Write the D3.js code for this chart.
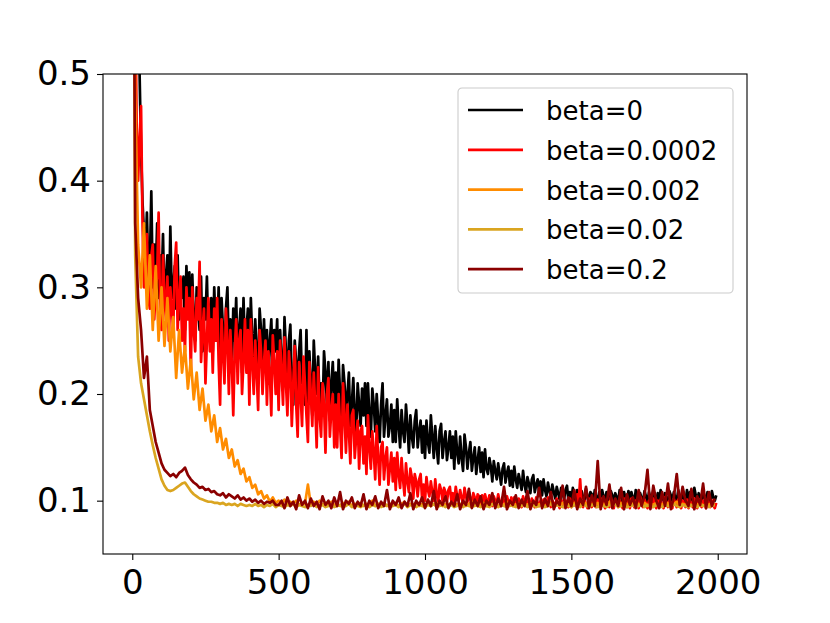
<!DOCTYPE html>
<html>
<head>
<meta charset="utf-8">
<script src="https://cdn.jsdelivr.net/npm/d3@7"></script>
<style>
  body { margin: 0; background: #fff; }
  text { font-family: "DejaVu Sans", sans-serif; }
</style>
</head>
<body>
<div id="chart"></div>
<script>
// x positions: the noisy runs are read every 5 steps, the smooth ones every 10
const stepsFine = d3.range(0, 2000, 5);
const steps = d3.range(0, 2000, 10);

const seriesNames = ["beta=0", "beta=0.0002", "beta=0.002", "beta=0.02", "beta=0.2"];
const seriesColors = ["#000000", "#ff0000", "#ff8c00", "#daa520", "#8b0000"];

const xTicks = [0, 500, 1000, 1500, 2000];
const yTicks = [0.1, 0.2, 0.3, 0.4, 0.5];

// beta=0 (every 5 steps)
const beta0 = [
  0.95, 0.80, 0.62, 0.58, 0.54, 0.50, 0.43, 0.38, 0.35, 0.33, 0.37, 0.31, 0.32, 0.39, 0.30, 0.34, 0.31, 0.36, 0.29, 0.33,
  0.30, 0.35, 0.28, 0.31, 0.33, 0.27, 0.357, 0.29, 0.30, 0.32, 0.28, 0.33, 0.27, 0.30, 0.29, 0.31, 0.26, 0.32, 0.28, 0.314,
  0.26, 0.312, 0.27, 0.25, 0.30, 0.28, 0.26, 0.31, 0.24, 0.29, 0.27, 0.31, 0.25, 0.28, 0.29, 0.24, 0.30, 0.26, 0.25, 0.30,
  0.24, 0.29, 0.26, 0.23, 0.28, 0.30, 0.24, 0.27, 0.22, 0.28, 0.25, 0.29, 0.23, 0.26, 0.28, 0.22, 0.29, 0.24, 0.26, 0.28,
  0.22, 0.29, 0.25, 0.23, 0.27, 0.24, 0.21, 0.28, 0.26, 0.22, 0.27, 0.23, 0.26, 0.21, 0.25, 0.27, 0.22, 0.26, 0.24, 0.27,
  0.20, 0.26, 0.23, 0.21, 0.272, 0.24, 0.20, 0.25, 0.265, 0.21, 0.19, 0.25, 0.23, 0.20, 0.24, 0.26, 0.21, 0.23, 0.19, 0.26,
  0.19, 0.24, 0.21, 0.18, 0.25, 0.22, 0.20, 0.235, 0.19, 0.21, 0.18, 0.24, 0.22, 0.19, 0.23, 0.175, 0.21, 0.23, 0.19, 0.22,
  0.18, 0.232, 0.20, 0.17, 0.227, 0.21, 0.18, 0.20, 0.22, 0.17, 0.19, 0.215, 0.18, 0.165, 0.21, 0.19, 0.17, 0.205, 0.18, 0.21,
  0.17, 0.21, 0.18, 0.16, 0.205, 0.19, 0.165, 0.20, 0.175, 0.155, 0.19, 0.21, 0.16, 0.18, 0.195, 0.16, 0.17, 0.19, 0.155, 0.185,
  0.155, 0.195, 0.17, 0.15, 0.185, 0.165, 0.155, 0.19, 0.17, 0.145, 0.18, 0.16, 0.15, 0.175, 0.185, 0.15, 0.165, 0.175, 0.145, 0.17,
  0.14, 0.175, 0.155, 0.145, 0.18, 0.16, 0.14, 0.17, 0.15, 0.135, 0.165, 0.172, 0.14, 0.155, 0.165, 0.138, 0.15, 0.165, 0.14, 0.16,
  0.13, 0.165, 0.145, 0.135, 0.16, 0.14, 0.128, 0.162, 0.15, 0.13, 0.145, 0.155, 0.128, 0.14, 0.15, 0.125, 0.138, 0.15, 0.127, 0.145,
  0.122, 0.148, 0.13, 0.125, 0.14, 0.132, 0.118, 0.137, 0.128, 0.12, 0.135, 0.125, 0.115, 0.13, 0.135, 0.117, 0.126, 0.132, 0.114, 0.128,
  0.113, 0.132, 0.12, 0.112, 0.125, 0.118, 0.11, 0.128, 0.115, 0.108, 0.122, 0.116, 0.107, 0.12, 0.124, 0.108, 0.115, 0.12, 0.106, 0.118,
  0.105, 0.12, 0.11, 0.104, 0.117, 0.109, 0.103, 0.115, 0.108, 0.102, 0.113, 0.107, 0.101, 0.112, 0.109, 0.101, 0.11, 0.114, 0.10, 0.108,
  0.10, 0.112, 0.104, 0.099, 0.11, 0.105, 0.10, 0.109, 0.103, 0.099, 0.111, 0.104, 0.10, 0.108, 0.106, 0.099, 0.11, 0.103, 0.10, 0.108,
  0.099, 0.11, 0.104, 0.10, 0.108, 0.102, 0.098, 0.109, 0.105, 0.10, 0.107, 0.103, 0.099, 0.11, 0.104, 0.098, 0.108, 0.102, 0.10, 0.109,
  0.10, 0.108, 0.103, 0.098, 0.11, 0.105, 0.099, 0.107, 0.102, 0.10, 0.109, 0.104, 0.098, 0.108, 0.103, 0.10, 0.11, 0.104, 0.099, 0.107,
  0.099, 0.11, 0.104, 0.10, 0.107, 0.102, 0.098, 0.109, 0.105, 0.10, 0.108, 0.103, 0.099, 0.11, 0.104, 0.10, 0.108, 0.102, 0.099, 0.11,
  0.10, 0.108, 0.103, 0.099, 0.112, 0.105, 0.10, 0.107, 0.104, 0.098, 0.11, 0.103, 0.10, 0.108, 0.104, 0.099, 0.109, 0.103, 0.10, 0.105
];

// beta=0.0002 (every 5 steps)
const beta0002 = [
  0.95, 0.75, 0.58, 0.45, 0.40, 0.44, 0.47, 0.36, 0.30, 0.34, 0.35, 0.29, 0.28, 0.33, 0.34, 0.27, 0.30, 0.31, 0.37, 0.28,
  0.26, 0.33, 0.29, 0.27, 0.31, 0.25, 0.30, 0.28, 0.26, 0.32, 0.342, 0.26, 0.29, 0.31, 0.25, 0.28, 0.24, 0.30, 0.27, 0.29,
  0.22, 0.30, 0.26, 0.24, 0.29, 0.27, 0.324, 0.23, 0.26, 0.28, 0.21, 0.25, 0.29, 0.24, 0.27, 0.22, 0.28, 0.25, 0.29, 0.23,
  0.19, 0.27, 0.24, 0.21, 0.28, 0.25, 0.20, 0.26, 0.23, 0.18, 0.24, 0.27, 0.21, 0.25, 0.26, 0.20, 0.23, 0.27, 0.22, 0.26,
  0.19, 0.27, 0.23, 0.20, 0.25, 0.22, 0.185, 0.26, 0.24, 0.20, 0.23, 0.25, 0.19, 0.24, 0.22, 0.18, 0.255, 0.23, 0.20, 0.24,
  0.185, 0.25, 0.22, 0.19, 0.253, 0.21, 0.18, 0.24, 0.22, 0.17, 0.21, 0.245, 0.19, 0.16, 0.23, 0.20, 0.17, 0.235, 0.21, 0.18,
  0.155, 0.23, 0.20, 0.17, 0.22, 0.19, 0.15, 0.225, 0.18, 0.16, 0.21, 0.19, 0.145, 0.20, 0.215, 0.16, 0.185, 0.20, 0.15, 0.19,
  0.15, 0.20, 0.17, 0.14, 0.21, 0.18, 0.145, 0.19, 0.165, 0.135, 0.18, 0.185, 0.14, 0.16, 0.175, 0.13, 0.165, 0.17, 0.135, 0.16,
  0.125, 0.18, 0.15, 0.13, 0.165, 0.145, 0.12, 0.17, 0.14, 0.115, 0.15, 0.155, 0.12, 0.14, 0.15, 0.115, 0.13, 0.145, 0.118, 0.14,
  0.11, 0.145, 0.125, 0.112, 0.14, 0.12, 0.105, 0.135, 0.118, 0.108, 0.13, 0.122, 0.102, 0.125, 0.118, 0.104, 0.12, 0.125, 0.102, 0.115,
  0.10, 0.122, 0.11, 0.104, 0.118, 0.108, 0.10, 0.12, 0.106, 0.099, 0.115, 0.11, 0.10, 0.112, 0.108, 0.099, 0.11, 0.113, 0.10, 0.107,
  0.098, 0.113, 0.104, 0.10, 0.11, 0.103, 0.097, 0.112, 0.104, 0.099, 0.108, 0.102, 0.097, 0.107, 0.103, 0.097, 0.106, 0.104, 0.097, 0.105,
  0.096, 0.106, 0.10, 0.098, 0.105, 0.099, 0.095, 0.104, 0.10, 0.097, 0.106, 0.099, 0.095, 0.103, 0.10, 0.095, 0.104, 0.099, 0.096, 0.103,
  0.095, 0.103, 0.098, 0.096, 0.102, 0.097, 0.094, 0.104, 0.099, 0.095, 0.101, 0.098, 0.094, 0.102, 0.097, 0.094, 0.103, 0.098, 0.095, 0.10,
  0.094, 0.101, 0.097, 0.095, 0.103, 0.098, 0.094, 0.10, 0.097, 0.095, 0.102, 0.097, 0.093, 0.101, 0.098, 0.094, 0.10, 0.097, 0.094, 0.102,
  0.094, 0.101, 0.097, 0.095, 0.106, 0.098, 0.12, 0.096, 0.094, 0.10, 0.097, 0.093, 0.102, 0.098, 0.094, 0.10, 0.097, 0.094, 0.101, 0.096,
  0.094, 0.102, 0.097, 0.093, 0.10, 0.098, 0.094, 0.103, 0.097, 0.093, 0.101, 0.098, 0.094, 0.10, 0.097, 0.093, 0.102, 0.096, 0.094, 0.10,
  0.093, 0.102, 0.097, 0.094, 0.10, 0.096, 0.093, 0.104, 0.098, 0.094, 0.101, 0.097, 0.093, 0.10, 0.096, 0.094, 0.102, 0.097, 0.093, 0.10,
  0.094, 0.101, 0.096, 0.093, 0.103, 0.098, 0.094, 0.10, 0.097, 0.093, 0.102, 0.097, 0.094, 0.101, 0.096, 0.093, 0.10, 0.098, 0.094, 0.101,
  0.093, 0.10, 0.097, 0.094, 0.102, 0.097, 0.093, 0.101, 0.096, 0.094, 0.10, 0.097, 0.093, 0.101, 0.098, 0.094, 0.10, 0.096, 0.093, 0.098
];

// beta=0.002 (every 10 steps)
const beta002 = [
  0.95, 0.48, 0.34, 0.30, 0.36, 0.28, 0.33, 0.26, 0.32, 0.25,
  0.30, 0.245, 0.29, 0.24, 0.272, 0.215, 0.26, 0.22, 0.245, 0.205,
  0.232, 0.195, 0.22, 0.185, 0.205, 0.175, 0.19, 0.165, 0.18, 0.155,
  0.168, 0.148, 0.158, 0.14, 0.148, 0.132, 0.138, 0.125, 0.13, 0.118,
  0.122, 0.112, 0.115, 0.106, 0.109, 0.102, 0.105, 0.099, 0.103, 0.098,
  0.10, 0.097, 0.101, 0.096, 0.099, 0.097, 0.10, 0.096, 0.098, 0.097,
  0.115, 0.096, 0.099, 0.097, 0.10, 0.096, 0.098, 0.097, 0.099, 0.096,
  0.097, 0.095, 0.098, 0.096, 0.099, 0.095, 0.097, 0.096, 0.098, 0.095,
  0.097, 0.096, 0.10, 0.095, 0.097, 0.096, 0.098, 0.095, 0.097, 0.096,
  0.098, 0.095, 0.097, 0.099, 0.095, 0.097, 0.096, 0.098, 0.095, 0.097,
  0.096, 0.098, 0.095, 0.097, 0.096, 0.099, 0.095, 0.097, 0.096, 0.098,
  0.095, 0.097, 0.096, 0.098, 0.095, 0.097, 0.099, 0.095, 0.097, 0.096,
  0.098, 0.095, 0.097, 0.096, 0.098, 0.095, 0.097, 0.096, 0.099, 0.095,
  0.097, 0.096, 0.098, 0.095, 0.097, 0.096, 0.098, 0.095, 0.097, 0.096,
  0.098, 0.095, 0.097, 0.099, 0.095, 0.097, 0.096, 0.098, 0.095, 0.097,
  0.096, 0.098, 0.095, 0.097, 0.096, 0.098, 0.095, 0.097, 0.096, 0.098,
  0.095, 0.097, 0.096, 0.099, 0.095, 0.097, 0.096, 0.098, 0.095, 0.097,
  0.096, 0.098, 0.095, 0.097, 0.096, 0.098, 0.095, 0.097, 0.096, 0.098,
  0.095, 0.097, 0.096, 0.098, 0.095, 0.097, 0.099, 0.095, 0.097, 0.096,
  0.098, 0.095, 0.097, 0.096, 0.098, 0.095, 0.097, 0.096, 0.098, 0.096
];

// beta=0.02 (every 10 steps)
const beta02 = [
  0.95, 0.33, 0.235, 0.21, 0.195, 0.18, 0.165, 0.152, 0.14, 0.13,
  0.12, 0.114, 0.11, 0.109, 0.11, 0.112, 0.114, 0.116, 0.117, 0.113,
  0.109, 0.106, 0.104, 0.102, 0.101, 0.10, 0.099, 0.099, 0.098, 0.098,
  0.097, 0.098, 0.096, 0.097, 0.096, 0.097, 0.095, 0.097, 0.096, 0.095,
  0.096, 0.095, 0.097, 0.095, 0.096, 0.094, 0.096, 0.095, 0.097, 0.094,
  0.096, 0.095, 0.094, 0.096, 0.095, 0.097, 0.094, 0.096, 0.095, 0.094,
  0.096, 0.095, 0.097, 0.094, 0.095, 0.096, 0.094, 0.095, 0.097, 0.094,
  0.095, 0.096, 0.094, 0.095, 0.097, 0.094, 0.096, 0.095, 0.094, 0.096,
  0.095, 0.094, 0.096, 0.095, 0.097, 0.094, 0.095, 0.096, 0.094, 0.095,
  0.096, 0.094, 0.095, 0.097, 0.094, 0.096, 0.095, 0.094, 0.096, 0.095,
  0.094, 0.096, 0.095, 0.097, 0.094, 0.095, 0.096, 0.094, 0.095, 0.096,
  0.094, 0.095, 0.097, 0.094, 0.096, 0.095, 0.094, 0.096, 0.095, 0.094,
  0.096, 0.095, 0.094, 0.097, 0.095, 0.094, 0.096, 0.095, 0.094, 0.096,
  0.095, 0.094, 0.096, 0.095, 0.097, 0.094, 0.095, 0.096, 0.094, 0.095,
  0.096, 0.094, 0.095, 0.097, 0.094, 0.096, 0.095, 0.094, 0.096, 0.095,
  0.094, 0.096, 0.095, 0.094, 0.097, 0.095, 0.094, 0.096, 0.095, 0.094,
  0.096, 0.095, 0.094, 0.096, 0.095, 0.097, 0.094, 0.095, 0.096, 0.094,
  0.095, 0.096, 0.094, 0.095, 0.097, 0.094, 0.096, 0.095, 0.094, 0.096,
  0.095, 0.094, 0.096, 0.095, 0.094, 0.097, 0.095, 0.094, 0.096, 0.095,
  0.094, 0.096, 0.095, 0.094, 0.096, 0.095, 0.097, 0.094, 0.095, 0.096
];

// beta=0.2 (every 10 steps)
const beta2 = [
  0.95, 0.36, 0.29, 0.26, 0.215, 0.235, 0.185, 0.17, 0.155, 0.145,
  0.135, 0.129, 0.126, 0.123, 0.125, 0.122, 0.126, 0.128, 0.131, 0.124,
  0.12, 0.117, 0.115, 0.112, 0.113, 0.11, 0.111, 0.108, 0.109, 0.106,
  0.105, 0.107, 0.103, 0.106, 0.104, 0.102, 0.105, 0.101, 0.103, 0.10,
  0.102, 0.099, 0.101, 0.098, 0.10, 0.097, 0.099, 0.098, 0.10, 0.096,
  0.096, 0.10, 0.093, 0.103, 0.095, 0.099, 0.092, 0.105, 0.096, 0.10,
  0.093, 0.102, 0.095, 0.099, 0.092, 0.104, 0.096, 0.10, 0.093, 0.103,
  0.095, 0.108, 0.092, 0.10, 0.097, 0.103, 0.093, 0.099, 0.095, 0.106,
  0.092, 0.10, 0.096, 0.104, 0.093, 0.099, 0.095, 0.11, 0.092, 0.10,
  0.096, 0.103, 0.093, 0.099, 0.095, 0.107, 0.092, 0.10, 0.096, 0.103,
  0.093, 0.101, 0.095, 0.109, 0.092, 0.10, 0.096, 0.104, 0.093, 0.099,
  0.095, 0.106, 0.092, 0.10, 0.096, 0.111, 0.093, 0.101, 0.095, 0.104,
  0.092, 0.10, 0.096, 0.107, 0.093, 0.102, 0.095, 0.113, 0.092, 0.10,
  0.096, 0.105, 0.093, 0.101, 0.095, 0.109, 0.092, 0.10, 0.096, 0.112,
  0.093, 0.102, 0.095, 0.108, 0.092, 0.10, 0.096, 0.114, 0.093, 0.103,
  0.095, 0.11, 0.092, 0.102, 0.096, 0.113, 0.093, 0.105, 0.095, 0.137,
  0.092, 0.104, 0.096, 0.115, 0.093, 0.102, 0.095, 0.112, 0.092, 0.106,
  0.096, 0.103, 0.093, 0.11, 0.095, 0.105, 0.129, 0.092, 0.114, 0.10,
  0.093, 0.108, 0.095, 0.116, 0.092, 0.103, 0.125, 0.096, 0.113, 0.10,
  0.095, 0.111, 0.092, 0.104, 0.096, 0.116, 0.093, 0.108, 0.095, 0.102
];

// drawing order matches the legend: later series sit on top
const series = [
  { values: beta0, steps: stepsFine },
  { values: beta0002, steps: stepsFine },
  { values: beta002, steps: steps },
  { values: beta02, steps: steps },
  { values: beta2, steps: steps }
];

const width = 830, height = 623;
const margin = { top: 74, right: 83, bottom: 69, left: 103 };

const svg = d3.select("#chart").append("svg")
  .attr("width", width)
  .attr("height", height);

const x = d3.scaleLinear()
  .domain([-100, 2100])
  .range([margin.left, width - margin.right]);

const y = d3.scaleLinear()
  .domain([0.05, 0.5])
  .range([height - margin.bottom, margin.top]);

// clip lines to the axes box
svg.append("clipPath").attr("id", "plot-clip")
  .append("rect")
  .attr("x", margin.left)
  .attr("y", margin.top)
  .attr("width", width - margin.left - margin.right)
  .attr("height", height - margin.top - margin.bottom);

const lineGroup = svg.append("g").attr("clip-path", "url(#plot-clip)");
series.forEach((s, k) => {
  const line = d3.line()
    .x((d, i) => x(s.steps[i]))
    .y(d => y(d));
  lineGroup.append("path")
    .datum(s.values)
    .attr("fill", "none")
    .attr("stroke", seriesColors[k])
    .attr("stroke-width", 2.7)
    .attr("stroke-linejoin", "round")
    .attr("d", line);
});

// axes
const xAxis = svg.append("g")
  .attr("transform", `translate(0,${height - margin.bottom})`)
  .call(d3.axisBottom(x).tickValues(xTicks).tickSize(6).tickPadding(10).tickFormat(d3.format("d")));
xAxis.select(".domain").remove();
xAxis.selectAll("text")
  .attr("fill", "#000")
  .style("font-size", "34px")
  .attr("dy", "0.71em");

const yAxis = svg.append("g")
  .attr("transform", `translate(${margin.left},0)`)
  .call(d3.axisLeft(y).tickValues(yTicks).tickSize(6).tickPadding(6).tickFormat(d3.format(".1f")));
yAxis.select(".domain").remove();
yAxis.selectAll("text")
  .attr("fill", "#000")
  .style("font-size", "34px");
svg.selectAll(".tick line").attr("stroke", "#000").attr("stroke-width", 1.1);

// axes box
svg.append("rect")
  .attr("x", margin.left)
  .attr("y", margin.top)
  .attr("width", width - margin.left - margin.right)
  .attr("height", height - margin.top - margin.bottom)
  .attr("fill", "none")
  .attr("stroke", "#000")
  .attr("stroke-width", 1.1);

// legend
const legend = svg.append("g").attr("transform", "translate(458,88)");
legend.append("rect")
  .attr("width", 275)
  .attr("height", 205)
  .attr("rx", 4)
  .attr("fill", "#fff")
  .attr("fill-opacity", 0.8)
  .attr("stroke", "#cccccc")
  .attr("stroke-width", 1.1);

seriesNames.forEach((name, k) => {
  const rowY = 22 + k * 39.8;
  legend.append("line")
    .attr("x1", 10).attr("x2", 65)
    .attr("y1", rowY).attr("y2", rowY)
    .attr("stroke", seriesColors[k])
    .attr("stroke-width", 2.7);
  legend.append("text")
    .attr("x", 88)
    .attr("y", rowY + 10)
    .style("font-size", "26px")
    .attr("fill", "#000")
    .text(name);
});
</script>
</body>
</html>
